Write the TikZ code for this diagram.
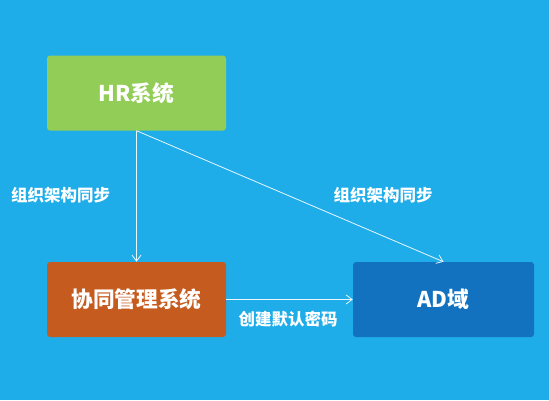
\documentclass[tikz,border=0pt]{standalone}
\usepackage{fontspec}
\setmainfont{Noto Sans CJK SC}
\usepackage{xcolor}
\usetikzlibrary{arrows.meta, positioning}

\definecolor{skyblue}{HTML}{1FADEA}
\definecolor{hrgreen}{HTML}{92CD57}
\definecolor{oaorange}{HTML}{C65B1F}
\definecolor{adblue}{HTML}{1272BF}

\tikzset{
  sysbox/.style={draw=none, rounded corners=3pt, minimum width=179pt, minimum height=75pt,
    text=white, font=\bfseries\fontsize{21.7}{24}\selectfont},
  flow/.style={draw=white!90!skyblue, line width=0.8pt, -{Straight Barb[length=6pt,width=9pt]}},
  tag/.style={text=white, font=\bfseries\fontsize{16.5}{19}\selectfont}
}

\begin{document}
\begin{tikzpicture}[x=1pt, y=-1pt]
% background
\fill[skyblue] (0,0) rectangle (549,400);
\useasboundingbox (0,0) rectangle (549,400);

% systems
\node[sysbox, fill=hrgreen] (hr) at (136.5,93) {HR系统};
\node[sysbox, fill=oaorange] (oa) at (136.5,299.5) {协同管理系统};
\node[sysbox, fill=adblue, minimum width=181pt] (ad) at (443.5,299.5) {AD域};

% sync flows
\draw[flow] (hr.south) -- (oa.north);
\draw[flow] (hr.south) -- (ad.north);
\draw[flow] (oa.east) -- (ad.west);

% labels
\node[tag] (synca) at (60.5,195) {组织架构同步};
\node[tag] (syncb) at (383,195) {组织架构同步};
\node[tag] (pwd) at (288,319) {创建默认密码};
\end{tikzpicture}
\end{document}
